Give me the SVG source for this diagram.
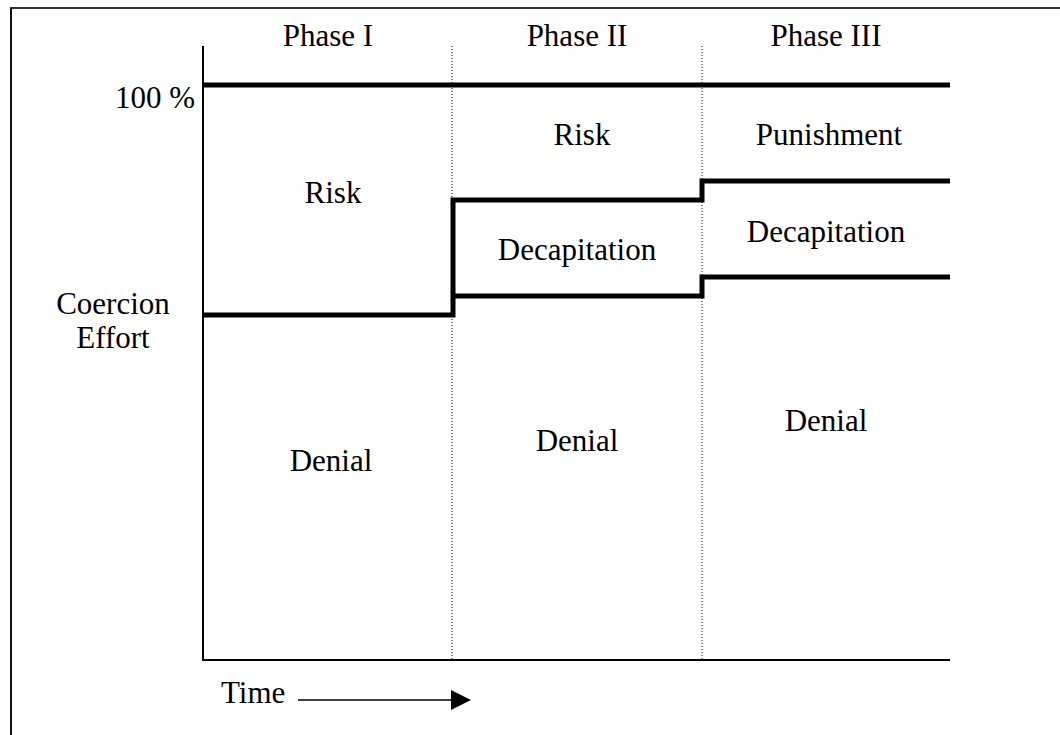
<svg xmlns="http://www.w3.org/2000/svg" width="1060" height="735" viewBox="0 0 1060 735">
<style>
text{font-family:"Liberation Serif","Times New Roman",serif;font-size:31px;fill:#000}
.m{text-anchor:middle}
.axis{stroke:#000;stroke-width:2;fill:none}
.thick{stroke:#000;stroke-width:5;fill:none;stroke-linejoin:miter}
.dot{stroke:#000;stroke-width:1;stroke-dasharray:1 2;fill:none}
</style>
<defs>
<marker id="ah" viewBox="0 0 20 20" refX="0" refY="10" markerWidth="20" markerHeight="20" markerUnits="userSpaceOnUse" orient="auto">
<path d="M0,0 L20,10 L0,20 Z" fill="#000"/>
</marker>
</defs>
<g id="frame">
<line x1="10" y1="8" x2="1060" y2="8" stroke="#333" stroke-width="2"/>
<line x1="11" y1="8" x2="11" y2="735" stroke="#111" stroke-width="2"/>
</g>
<g id="connectors">
<polyline class="axis" points="203,46 203,660 950,660"/>
<line class="dot" x1="452" y1="46" x2="452" y2="660"/>
<line class="dot" x1="702" y1="46" x2="702" y2="660"/>
<line class="thick" x1="203" y1="85" x2="950" y2="85"/>
<polyline class="thick" points="203,315 453,315 453,200 702,200 702,181 950,181"/>
<polyline class="thick" points="453,296 702,296 702,277 950,277"/>
<line x1="298" y1="700" x2="451" y2="700" stroke="#000" stroke-width="1.5" marker-end="url(#ah)"/>
</g>
<g id="labels">
<text class="m" x="328" y="46">Phase I</text>
<text class="m" x="577" y="46">Phase II</text>
<text class="m" x="826" y="46">Phase III</text>
<text x="195" y="108" text-anchor="end">100 %</text>
<text class="m" x="113" y="314">Coercion</text>
<text class="m" x="113" y="348">Effort</text>
<text x="221" y="703">Time</text>
</g>
<g id="phase1">
<text class="m" x="333" y="203">Risk</text>
<text class="m" x="331" y="471">Denial</text>
</g>
<g id="phase2">
<text class="m" x="582" y="145">Risk</text>
<text class="m" x="577" y="260">Decapitation</text>
<text class="m" x="577" y="451">Denial</text>
</g>
<g id="phase3">
<text class="m" x="829" y="145">Punishment</text>
<text class="m" x="826" y="242">Decapitation</text>
<text class="m" x="826" y="431">Denial</text>
</g>
</svg>
